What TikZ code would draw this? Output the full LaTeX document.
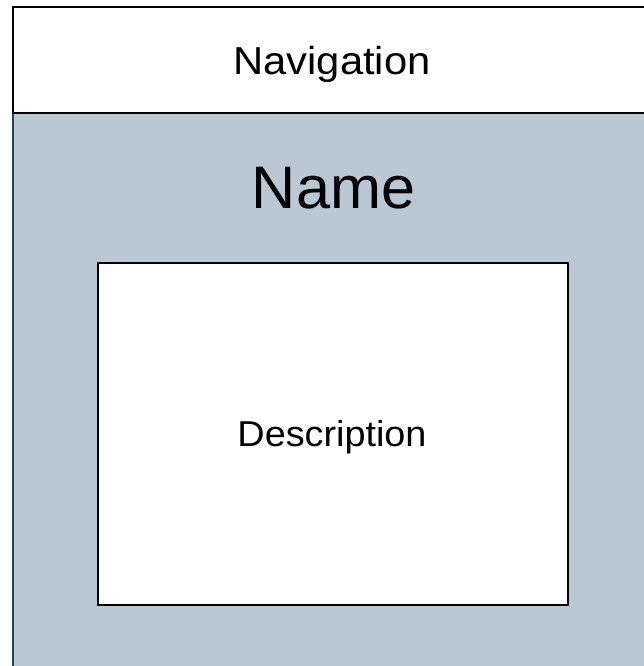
\documentclass[tikz,border=0pt]{standalone}
\usepackage{fontspec}
\setmainfont{Liberation Sans}
\definecolor{panelfill}{HTML}{BAC8D3}
\definecolor{panelline}{HTML}{23445D}
\newcommand{\wide}[2]{\fontsize{#1}{#1}\selectfont\addfontfeature{FakeStretch=#2}}
\begin{document}
\begin{tikzpicture}[x=1pt,y=-1pt,
  box/.style={draw=black,line width=1.6pt,fill=white},
  label/.style={inner sep=0pt,anchor=base}]
\useasboundingbox (0,0) rectangle (643,666);
\fill[white] (0,0) rectangle (643,666);
% content panel
\draw[panelline,line width=1.6pt,fill=panelfill] (13,113) rectangle (660,690);
% navigation bar
\draw[box] (13,7) rectangle (660,113);
\node[label,font=\wide{39}{1.07}] (nav) at (332,74.5) {Navigation};
\node[label,font=\wide{60}{1.02}] (name) at (333.5,208) {Name};
% description box
\draw[box,line width=1.3pt] (98,263) rectangle (568,605);
\node[label,font=\wide{36}{1.05}] (desc) at (332,446.5) {Description};
\end{tikzpicture}
\end{document}
